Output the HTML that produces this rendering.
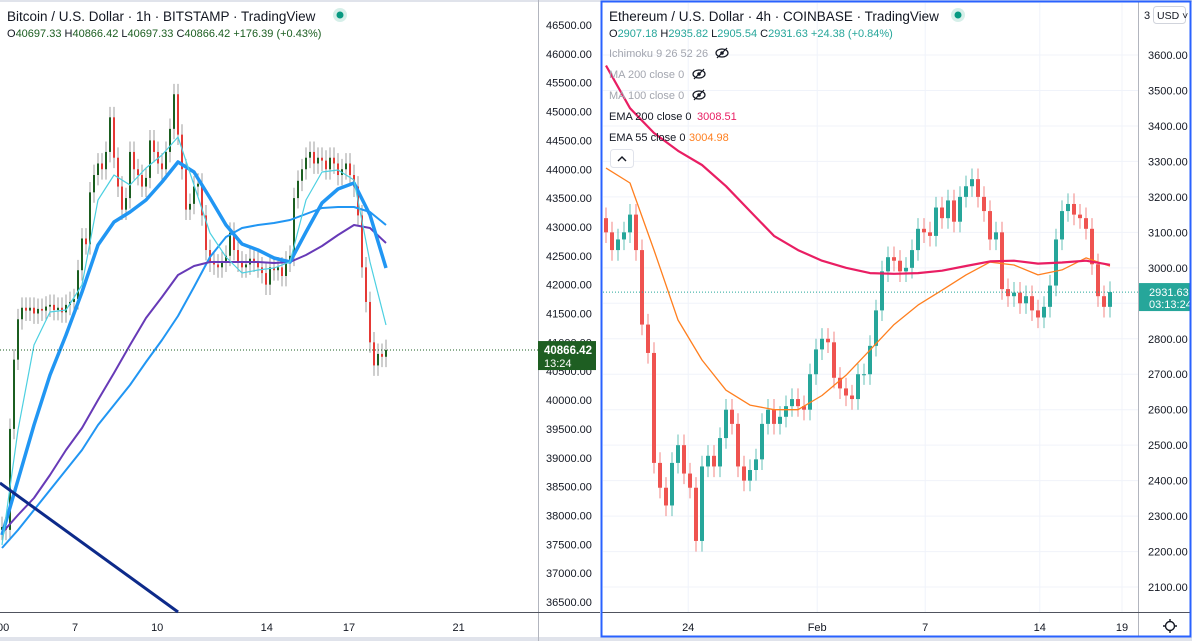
<!DOCTYPE html>
<html><head><meta charset="utf-8">
<style>
html,body{margin:0;padding:0;background:#fff;}
svg{display:block;font-family:"Liberation Sans",sans-serif;}
</style></head>
<body>
<svg id="root" width="1192" height="641" viewBox="0 0 1192 641">
  <rect x="0" y="0" width="1192" height="641" fill="#ffffff"/>
  <rect x="0" y="0" width="1192" height="2" fill="#e0e3eb"/>
  <rect x="0" y="637" width="1192" height="4" fill="#e0e3eb"/>
  <g id="btc"></g>
  <g id="eth"></g>
</svg>
<script>
// ---------- BTC data (1h, sampled) ----------
const btcCloses = [37800,37750,39500,40700,41400,41600,41550,41600,41500,41580,41550,41620,41650,41560,41600,41520,41650,41700,41750,42250,42800,42700,43600,43900,44100,44000,44300,44900,44200,43700,43300,43500,44300,44000,43900,43700,43850,44500,44300,44100,44000,44300,44700,45300,44600,44000,43300,43400,43700,43750,43200,42600,42400,42350,42300,42400,42500,42900,42600,42400,42300,42350,42450,42400,42300,42200,42000,42300,42250,42300,42150,42400,42500,43500,43800,44000,44200,44300,44100,44200,44150,44000,44200,44100,43900,44000,44100,43900,43700,43200,42300,41700,41000,40600,40800,40750,40866.42];
const btcMaFast = [37488,39481,40954,41526,41561,41994,43467,43900,43727,44022,44247,44559,43727,42895,42479,42202,42254,42289,42393,43467,43952,43987,43814,42393,41301];
const btcMaMid = [37662,38615,39568,40435,41128,41873,42687,43086,43259,43467,43779,44126,43952,43502,43034,42705,42601,42462,42393,42913,43415,43658,43762,43207,42289];
const btcMaSlow = [37436,37748,38095,38441,38788,39135,39568,39915,40261,40660,41041,41457,41960,42479,42826,42982,43034,43069,43120,43224,43329,43346,43346,43259,43034];
const btcMaPurple = [37697,38008,38303,38701,39135,39516,40001,40469,40954,41422,41786,42168,42323,42393,42393,42393,42393,42375,42393,42514,42670,42861,43034,42982,42722];
const btcTicks = [46500,46000,45500,45000,44500,44000,43500,43000,42500,42000,41500,41000,40500,40000,39500,39000,38500,38000,37500,37000,36500];
const btcDays = [7,10,14,17,21];
const btcLast = 40866.42;
const btcTrend = [[4.26,38563],[10.76,36327]]; // [day, price]

// ---------- ETH data (4h, sampled) ----------
const ethCloses = [3100,3050,3080,3100,3150,3050,2840,2760,2450,2380,2330,2450,2500,2420,2380,2230,2440,2470,2440,2520,2600,2560,2440,2400,2430,2460,2560,2600,2560,2580,2610,2630,2610,2600,2700,2770,2800,2790,2690,2660,2640,2630,2700,2700,2780,2880,2990,3030,3020,2990,3000,3050,3110,3100,3090,3170,3140,3190,3130,3200,3230,3250,3200,3160,3080,3100,2940,2920,2930,2900,2920,2880,2860,2890,2950,3080,3160,3180,3150,3140,3110,3010,2920,2890,2931.63];
const ethEma200 = [3570,3450,3380,3330,3290,3230,3160,3090,3050,3020,3000,2985,2983,2985,2992,3005,3018,3020,3012,3015,3020,3008.51];
const ethEma55 = [3281,3239,3050,2853,2740,2655,2613,2600,2600,2640,2697,2768,2840,2895,2937,2980,3016,3008,2980,2994,3028,3004.98];
const ethTicks = [3600,3500,3400,3300,3200,3100,3000,2900,2800,2700,2600,2500,2400,2300,2200,2100];
const ethDateLabels = ["24","Feb","7","14","19"];
const ethDateIdx = [13.7,35.2,53.2,72.3,86];
const ethLast = 2931.63;

const NS = "http://www.w3.org/2000/svg";
function mk(parent, tag, attrs, text){
  const e = document.createElementNS(NS, tag);
  for (const k in attrs) e.setAttribute(k, attrs[k]);
  if (text !== undefined) e.textContent = text;
  parent.appendChild(e);
  return e;
}

// ===== BTC pane =====
const btc = document.getElementById('btc');
const bY = p => 25 + (46500 - p) * 0.0577;
const bXi = i => 2 + i * 4;
const bXday = d => 75 + (d - 7) * 27.4;

for (const t of btcTicks) {
  const el = mk(btc, 'text', {x: 546, y: bY(t) + 4, 'font-size': 11, fill: '#131722'}, t.toFixed(2));
  
  
}
mk(btc, 'line', {x1: 538.5, y1: 0, x2: 538.5, y2: 641, stroke: '#b2b5be', 'stroke-width': 1});
mk(btc, 'line', {x1: 0, y1: 612.5, x2: 600, y2: 612.5, stroke: '#50535e', 'stroke-width': 1});
for (const d of btcDays) {
  const el = mk(btc, 'text', {x: bXday(d), y: 631, 'font-size': 11, fill: '#131722', 'text-anchor': 'middle'}, String(d));
  
  
}
mk(btc, 'text', {x: -6, y: 631, 'font-size': 11, fill: '#131722'}, ':00');

for (let i = 0; i < btcCloses.length; i++) {
  const c = btcCloses[i], o = i ? btcCloses[i-1] : c - 50;
  const up = c >= o;
  const col = up ? '#1b5e20' : '#e53935';
  const x = bXi(i);
  const hi = Math.max(o, c) + 180, lo = Math.min(o, c) - 180;
  mk(btc, 'line', {x1: x, y1: bY(hi), x2: x, y2: bY(lo), stroke: '#9e9e9e', 'stroke-width': 1});
  const top = bY(Math.max(o, c)), h = Math.max(1, bY(Math.min(o, c)) - top);
  const r = mk(btc, 'rect', {x: x - 1, y: top, width: 2, height: h, fill: col});
  
  
}
function btcLine(arr, color, w, name) {
  const pts = arr.map((v, k) => bXi(k * 4).toFixed(1) + ',' + bY(v).toFixed(1)).join(' ');
  const el = mk(btc, 'polyline', {points: pts, fill: 'none', stroke: color, 'stroke-width': w, 'stroke-linejoin': 'round'});
  
  
}
btcLine(btcMaSlow, '#2196f3', 2, 'btc-ma-slow');
btcLine(btcMaPurple, '#673ab7', 2, 'btc-ma-purple');
btcLine(btcMaMid, '#2196f3', 3.5, 'btc-ma-mid');
btcLine(btcMaFast, '#4dd0e1', 1.2, 'btc-ma-fast');
const tl = mk(btc, 'line', {x1: bXday(btcTrend[0][0]), y1: bY(btcTrend[0][1]), x2: bXday(btcTrend[1][0]), y2: bY(btcTrend[1][1]), stroke: '#0d2a8a', 'stroke-width': 3});



mk(btc, 'line', {x1: 0, y1: bY(btcLast), x2: 538, y2: bY(btcLast), stroke: '#1b5e20', 'stroke-width': 1, 'stroke-dasharray': '1 2'});
mk(btc, 'rect', {x: 538, y: bY(btcLast) - 9, width: 58, height: 29, fill: '#1e5e22'});
mk(btc, 'text', {x: 544, y: bY(btcLast) + 4, 'font-size': 11.5, fill: '#fff', 'font-weight': 'bold'}, btcLast.toFixed(2));
mk(btc, 'text', {x: 544, y: bY(btcLast) + 17, 'font-size': 11, fill: '#fff'}, '13:24');

const bt = mk(btc, 'text', {x: 7, y: 21, 'font-size': 13.5, fill: '#131722'}, 'Bitcoin / U.S. Dollar · 1h · BITSTAMP · TradingView');


mk(btc, 'circle', {cx: 340, cy: 15, r: 7, fill: '#d6efe9'});
mk(btc, 'circle', {cx: 340, cy: 15, r: 3.5, fill: '#089981'});
const bo = mk(btc, 'text', {x: 7, y: 37, 'font-size': 11, fill: '#1b5e20'});


bo.innerHTML = '<tspan fill="#131722">O</tspan>40697.33 <tspan fill="#131722">H</tspan>40866.42 <tspan fill="#131722">L</tspan>40697.33 <tspan fill="#131722">C</tspan>40866.42 +176.39 (+0.43%)';

// ===== ETH pane =====
const eth = document.getElementById('eth');
const eY = p => 55 + (3600 - p) * 0.3547;
const eXi = i => 606 + i * 6;

for (const t of ethTicks) {
  mk(eth, 'line', {x1: 603, y1: eY(t), x2: 1138, y2: eY(t), stroke: '#f0f3fa', 'stroke-width': 1});
  const el = mk(eth, 'text', {x: 1148, y: eY(t) + 4, 'font-size': 11, fill: '#131722'}, t.toFixed(2));
  
  
}
for (let k = 0; k < ethDateLabels.length; k++) {
  const x = eXi(ethDateIdx[k]);
  mk(eth, 'line', {x1: x, y1: 3, x2: x, y2: 612, stroke: '#f0f3fa', 'stroke-width': 1});
  const el = mk(eth, 'text', {x: x, y: 631, 'font-size': 11, fill: '#131722', 'text-anchor': 'middle'}, ethDateLabels[k]);
  
  
}
mk(eth, 'line', {x1: 1138.5, y1: 2, x2: 1138.5, y2: 637, stroke: '#b2b5be', 'stroke-width': 1});
mk(eth, 'line', {x1: 602, y1: 612.5, x2: 1190, y2: 612.5, stroke: '#50535e', 'stroke-width': 1});

for (let i = 0; i < ethCloses.length; i++) {
  const c = ethCloses[i], o = i ? ethCloses[i-1] : 3140;
  const up = c >= o;
  const col = up ? '#26a69a' : '#ef5350';
  const x = eXi(i);
  const hi = Math.max(o, c) + 30, lo = Math.min(o, c) - 30;
  mk(eth, 'line', {x1: x, y1: eY(hi), x2: x, y2: eY(lo), stroke: col, 'stroke-width': 1, opacity: 0.7});
  const top = eY(Math.max(o, c)), h = Math.max(1, eY(Math.min(o, c)) - top);
  const r = mk(eth, 'rect', {x: x - 2, y: top, width: 4, height: h, fill: col});
  
  
}
function ethLine(arr, color, w, name) {
  const pts = arr.map((v, k) => eXi(k * 4).toFixed(1) + ',' + eY(v).toFixed(1)).join(' ');
  const el = mk(eth, 'polyline', {points: pts, fill: 'none', stroke: color, 'stroke-width': w, 'stroke-linejoin': 'round'});
  
  
}
ethLine(ethEma55, '#ff7f1f', 1.3, 'eth-ema-55');
ethLine(ethEma200, '#e91e63', 2.2, 'eth-ema-200');

mk(eth, 'line', {x1: 603, y1: eY(ethLast), x2: 1138, y2: eY(ethLast), stroke: '#26a69a', 'stroke-width': 1, 'stroke-dasharray': '1 2'});
mk(eth, 'rect', {x: 1139, y: eY(ethLast) - 9, width: 51, height: 28, fill: '#26a69a'});
mk(eth, 'text', {x: 1149, y: eY(ethLast) + 4, 'font-size': 11, fill: '#fff'}, ethLast.toFixed(2));
mk(eth, 'text', {x: 1149, y: eY(ethLast) + 16, 'font-size': 11, fill: '#fff'}, '03:13:24');

const et = mk(eth, 'text', {x: 609, y: 21, 'font-size': 13.5, fill: '#131722'}, 'Ethereum / U.S. Dollar · 4h · COINBASE · TradingView');


mk(eth, 'circle', {cx: 958, cy: 15, r: 7, fill: '#d6efe9'});
mk(eth, 'circle', {cx: 958, cy: 15, r: 3.5, fill: '#089981'});
const eo = mk(eth, 'text', {x: 609, y: 37, 'font-size': 11, fill: '#26a69a'});


eo.innerHTML = '<tspan fill="#131722">O</tspan>2907.18 <tspan fill="#131722">H</tspan>2935.82 <tspan fill="#131722">L</tspan>2905.54 <tspan fill="#131722">C</tspan>2931.63 +24.38 (+0.84%)';
const inds = [['Ichimoku 9 26 52 26', '#a3a6af', '', '', 722], ['MA 200 close 0', '#a3a6af', '', '', 699], ['MA 100 close 0', '#a3a6af', '', '', 699], ['EMA 200 close 0', '#131722', '3008.51', '#e91e63', 0], ['EMA 55 close 0', '#131722', '3004.98', '#ff7f1f', 0]];
inds.forEach((d, k) => {
  const y = 57 + k * 21;
  const t = mk(eth, 'text', {x: 609, y: y, 'font-size': 11, fill: d[1]}, d[0]);
  
  
  if (d[2]) mk(eth, 'text', {x: k === 3 ? 697 : 689, y: y, 'font-size': 11, fill: d[3]}, d[2]);
  if (d[4]) {
    const g = mk(eth, 'g', {transform: 'translate(' + d[4] + ',' + (y - 4) + ')'});
    
    
    mk(g, 'ellipse', {cx: 0, cy: 0, rx: 6, ry: 4, fill: 'none', stroke: '#131722', 'stroke-width': 1.2});
    mk(g, 'circle', {cx: 0, cy: 0, r: 1.8, fill: '#131722'});
    mk(g, 'line', {x1: -5, y1: 5, x2: 5, y2: -5, stroke: '#131722', 'stroke-width': 1.2});
  }
});
const cb = mk(eth, 'g', {});


mk(cb, 'rect', {x: 610.5, y: 149.5, width: 23, height: 18, rx: 3, fill: '#fff', stroke: '#e0e3eb'});
mk(cb, 'path', {d: 'M618 161 L622 157 L626 161', fill: 'none', stroke: '#131722', 'stroke-width': 1.4});

const ub = mk(eth, 'g', {});


mk(ub, 'rect', {x: 1153.5, y: 6.5, width: 32, height: 17, rx: 3, fill: '#fff', stroke: '#d1d4dc'});
mk(ub, 'text', {x: 1157, y: 19, 'font-size': 10.5, fill: '#131722'}, 'USD ˅');
mk(eth, 'text', {x: 1144, y: 19, 'font-size': 11, fill: '#131722'}, '3');

const gear = mk(eth, 'g', {transform: 'translate(1170,626)'});


mk(gear, 'circle', {cx: 0, cy: 0, r: 4.5, fill: 'none', stroke: '#131722', 'stroke-width': 1.4});
mk(gear, 'path', {d: 'M0 -7 V-4.5 M0 7 V4.5 M-7 0 H-4.5 M7 0 H4.5', stroke: '#131722', 'stroke-width': 1.4});

const bd = mk(eth, 'rect', {x: 601.5, y: 1.5, width: 589, height: 635, fill: 'none', stroke: '#2962ff', 'stroke-width': 2});


</script>
</body></html>
